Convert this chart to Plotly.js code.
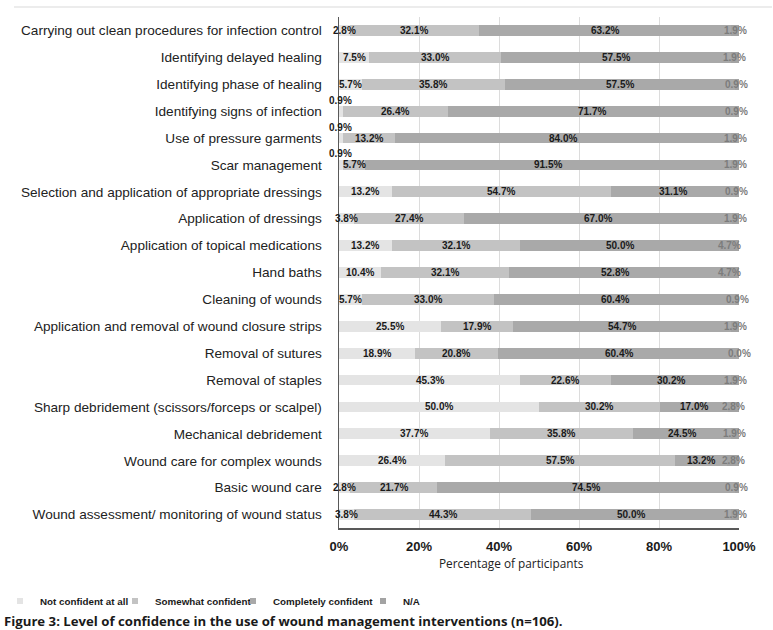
<!DOCTYPE html>
<html>
<head>
<meta charset="utf-8">
<script src="https://cdn.plot.ly/plotly-3.0.1.min.js"></script>
<style>
  html, body { margin: 0; padding: 0; background: #ffffff; }
  #chart { width: 773px; height: 630px; }
</style>
</head>
<body>
<div id="chart"></div>
<script>
// ---------- data ----------
const categories = [
  "Carrying out clean procedures for infection control",
  "Identifying delayed healing",
  "Identifying phase of healing",
  "Identifying signs of infection",
  "Use of pressure garments",
  "Scar management",
  "Selection and application of appropriate dressings",
  "Application of dressings",
  "Application of topical medications",
  "Hand baths",
  "Cleaning of wounds",
  "Application and removal of wound closure strips",
  "Removal of sutures",
  "Removal of staples",
  "Sharp debridement (scissors/forceps or scalpel)",
  "Mechanical debridement",
  "Wound care for complex wounds",
  "Basic wound care",
  "Wound assessment/ monitoring of wound status"
];
const notConfident = [2.8, 7.5, 5.7, 0.9, 0.9, 0.9, 13.2, 3.8, 13.2, 10.4, 5.7, 25.5, 18.9, 45.3, 50.0, 37.7, 26.4, 2.8, 3.8];
const somewhatConfident = [32.1, 33.0, 35.8, 26.4, 13.2, 5.7, 54.7, 27.4, 32.1, 32.1, 33.0, 17.9, 20.8, 22.6, 30.2, 35.8, 57.5, 21.7, 44.3];
const completelyConfident = [63.2, 57.5, 57.5, 71.7, 84.0, 91.5, 31.1, 67.0, 50.0, 52.8, 60.4, 54.7, 60.4, 30.2, 17.0, 24.5, 13.2, 74.5, 50.0];
const notApplicable = [1.9, 1.9, 0.9, 0.9, 1.9, 1.9, 0.9, 1.9, 4.7, 4.7, 0.9, 1.9, 0.0, 1.9, 2.8, 1.9, 2.8, 0.9, 1.9];
const seriesNames = ["Not confident at all", "Somewhat confident", "Completely confident", "N/A"];
const tickValues = [0, 20, 40, 60, 80, 100];
const axisTitle = "Percentage of participants";
const caption = "Figure 3: Level of confidence in the use of wound management interventions (n=106).";

// ---------- styles ----------
const seriesColors = ["#e4e4e4", "#c3c3c3", "#a9a9a9", "#a3a3a3"];
const labelColors = ["#1a1a1a", "#1a1a1a", "#1a1a1a", "#7c7c7c"];
const legendEntryWidths = [70, 73, 85, 20];
const sansFamily = "Arial, Liberation Sans, Helvetica, sans-serif";
const series = [notConfident, somewhatConfident, completelyConfident, notApplicable];

// plot-area geometry (px) used to convert paper positions
const W = 773, H = 630;
const M = { l: 339, r: 34, t: 17, b: 102 };
const pw = W - M.l - M.r, ph = H - M.t - M.b;
const px2paperX = (px) => (px - M.l) / pw;
const px2paperY = (py) => (H - M.b - py) / ph;

// ---------- traces ----------
const traces = series.map((vals, i) => ({
  type: "bar",
  orientation: "h",
  name: seriesNames[i],
  y: categories,
  x: vals,
  marker: { color: seriesColors[i], line: { width: 0 } },
  showlegend: false,
  hoverinfo: "skip"
}));

// small square legend entries
seriesNames.forEach((nm, i) => {
  traces.push({
    type: "scatter",
    mode: "markers",
    name: nm,
    x: [null],
    y: [null],
    marker: { symbol: "square", size: 6, color: seriesColors[i] },
    legendwidth: legendEntryWidths[i],
    showlegend: true,
    hoverinfo: "skip"
  });
});

// ---------- value labels ----------
const annotations = [];
categories.forEach((cat, j) => {
  let cum = 0;
  series.forEach((vals, i) => {
    const v = vals[j];
    const center = Math.min(cum + v / 2, 100);
    cum += v;
    annotations.push({
      x: center,
      y: cat,
      xref: "x",
      yref: "y",
      text: v.toFixed(1) + "%",
      showarrow: false,
      xanchor: "center",
      yanchor: "middle",
      yshift: (i === 0 && v < 1) ? 11 : 0,
      font: { family: sansFamily, size: 10, weight: "bold", color: labelColors[i] }
    });
  });
});

annotations.push({
  xref: "paper", yref: "paper",
  x: px2paperX(511), y: px2paperY(563),
  xanchor: "center", yanchor: "middle",
  text: axisTitle, showarrow: false,
  font: { family: "'Open Sans', sans-serif", size: 11.8, color: "#222222" }
});

annotations.push({
  xref: "paper", yref: "paper",
  x: px2paperX(2), y: px2paperY(621),
  xanchor: "left", yanchor: "middle",
  text: caption, showarrow: false,
  font: { family: "'Open Sans', sans-serif", size: 13.2, weight: "bold", color: "#1a1a1a" }
});

// ---------- layout ----------
const layout = {
  width: W,
  height: H,
  margin: { l: M.l, r: M.r, t: M.t, b: M.b, autoexpand: false },
  paper_bgcolor: "#ffffff",
  plot_bgcolor: "#ffffff",
  barmode: "stack",
  bargap: 0.6,
  showlegend: true,
  legend: {
    orientation: "h",
    xref: "paper", yref: "paper",
    x: px2paperX(0), xanchor: "left",
    y: px2paperY(601), yanchor: "middle",
    itemwidth: 30,
    traceorder: "normal",
    bgcolor: "rgba(0,0,0,0)",
    font: { family: sansFamily, size: 9.8, weight: "bold", color: "#1a1a1a" }
  },
  xaxis: {
    range: [0, 100],
    tickmode: "array",
    tickvals: tickValues,
    ticktext: tickValues.map(v => v + "%"),
    showgrid: true,
    gridcolor: "#dcdcdc",
    gridwidth: 1,
    zeroline: false,
    showline: true,
    linecolor: "#595959",
    linewidth: 1.5,
    ticks: "",
    ticklabelstandoff: 6,
    tickfont: { family: sansFamily, size: 13, weight: "bold", color: "#1a1a1a" },
    fixedrange: true
  },
  yaxis: {
    type: "category",
    autorange: "reversed",
    showgrid: false,
    zeroline: false,
    showline: true,
    linecolor: "#595959",
    linewidth: 1.5,
    ticks: "",
    ticklabelstandoff: 13,
    tickfont: { family: sansFamily, size: 13.6, color: "#222222" },
    fixedrange: true
  },
  shapes: [{
    type: "line",
    xref: "paper", yref: "paper",
    x0: px2paperX(14), x1: px2paperX(772),
    y0: px2paperY(7), y1: px2paperY(7),
    line: { color: "#ececec", width: 2 }
  }],
  annotations: annotations
};

Plotly.newPlot("chart", traces, layout, { staticPlot: true, displayModeBar: false });
</script>
</body>
</html>
